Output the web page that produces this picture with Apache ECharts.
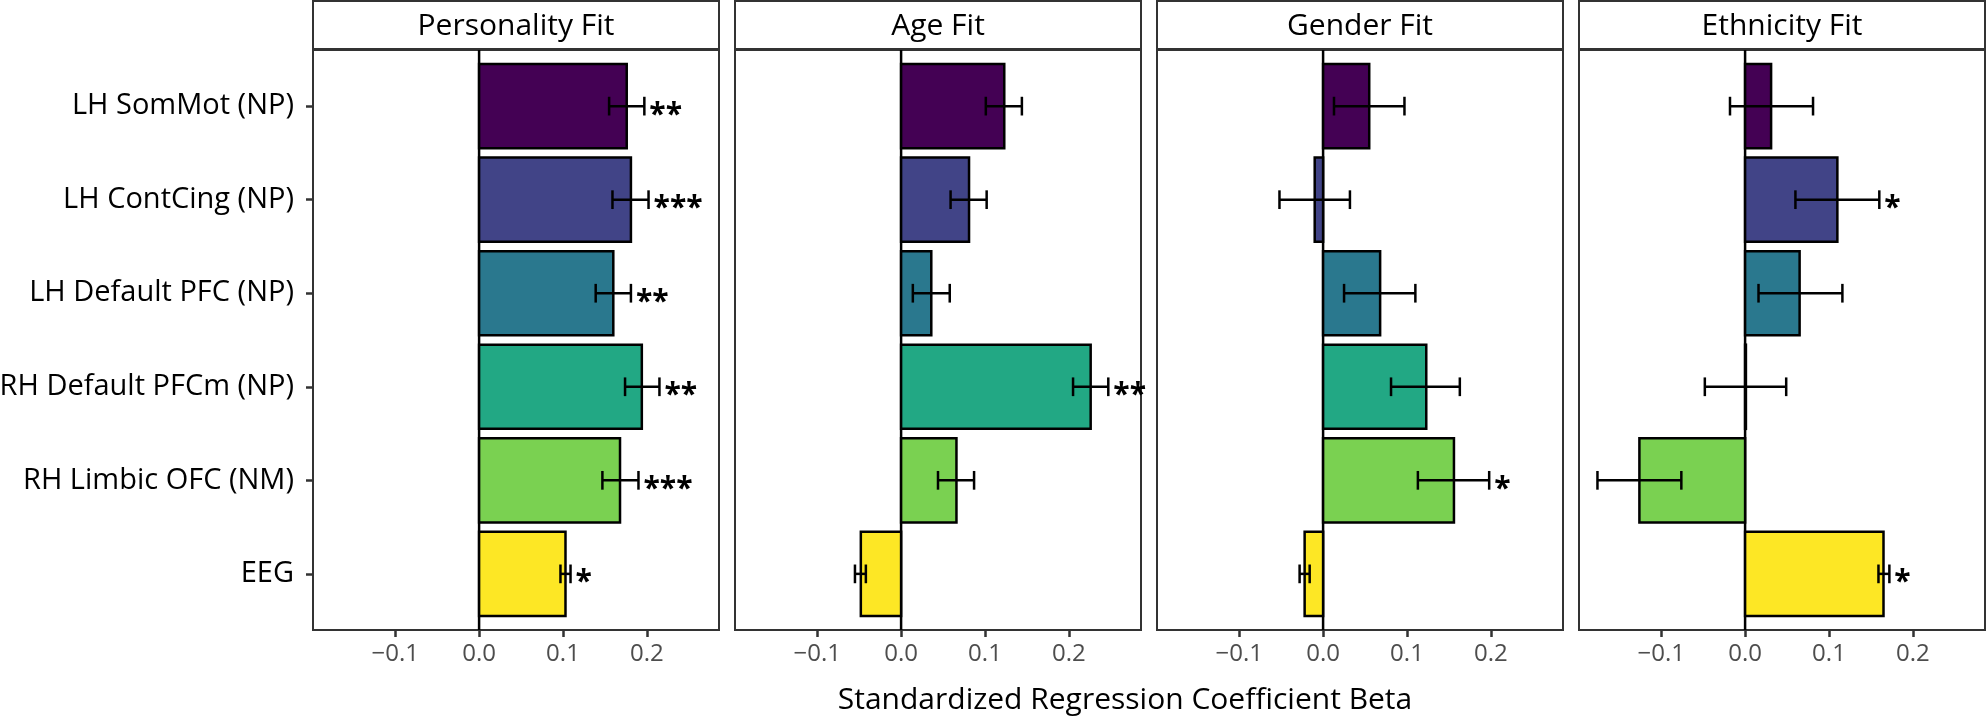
<!DOCTYPE html>
<html>
<head>
<meta charset="utf-8">
<script src="https://cdn.jsdelivr.net/npm/echarts@6/dist/echarts.min.js"></script>
<style>
html,body{margin:0;padding:0;background:#fff;}
#chart{width:1986px;height:720px;}
</style>
</head>
<body>
<div id="chart"></div>
<script>
// ---------------- data ----------------
const categories = ['LH SomMot (NP)', 'LH ContCing (NP)', 'LH Default PFC (NP)', 'RH Default PFCm (NP)', 'RH Limbic OFC (NM)', 'EEG'];
const panelTitles = ['Personality Fit', 'Age Fit', 'Gender Fit', 'Ethnicity Fit'];
const xTicks = [-0.1, 0.0, 0.1, 0.2];
const axisTitle = 'Standardized Regression Coefficient Beta';

const personalityBeta = [0.176, 0.181, 0.160, 0.194, 0.168, 0.103];
const personalityLo   = [0.155, 0.159, 0.139, 0.174, 0.147, 0.097];
const personalityHi   = [0.197, 0.202, 0.181, 0.215, 0.190, 0.109];
const personalityStars = ['**', '***', '**', '**', '***', '*'];

const ageBeta = [0.123, 0.081, 0.036, 0.226, 0.066, -0.048];
const ageLo   = [0.101, 0.059, 0.014, 0.205, 0.044, -0.055];
const ageHi   = [0.144, 0.102, 0.058, 0.247, 0.087, -0.042];
const ageStars = ['', '', '', '**', '', ''];

const genderBeta = [0.055, -0.010, 0.068, 0.123, 0.156, -0.022];
const genderLo   = [0.013, -0.052, 0.025, 0.081, 0.113, -0.028];
const genderHi   = [0.097, 0.032, 0.110, 0.163, 0.198, -0.016];
const genderStars = ['', '', '', '', '*', ''];

const ethnicityBeta = [0.031, 0.110, 0.065, 0.001, -0.126, 0.165];
const ethnicityLo   = [-0.018, 0.060, 0.016, -0.048, -0.176, 0.159];
const ethnicityHi   = [0.081, 0.160, 0.116, 0.049, -0.076, 0.172];
const ethnicityStars = ['', '*', '', '', '', '*'];

const barColors = ['#440154', '#414487', '#2A788E', '#22A884', '#7AD151', '#FDE725'];

// ---------------- layout ----------------
const FONT = "'Open Sans', 'Noto Sans', sans-serif";
const panelLeft0 = 313, panelW = 406, panelStep = 422;
const panelTop = 50, panelH = 580;
const stripTop = 1, stripH = 48;
const xMin = -0.198, xMax = 0.286;

const panels = [
  {beta: personalityBeta, lo: personalityLo, hi: personalityHi, stars: personalityStars},
  {beta: ageBeta, lo: ageLo, hi: ageHi, stars: ageStars},
  {beta: genderBeta, lo: genderLo, hi: genderHi, stars: genderStars},
  {beta: ethnicityBeta, lo: ethnicityLo, hi: ethnicityHi, stars: ethnicityStars}
];

const grids = [], xAxes = [], yAxes = [], series = [], graphics = [];
const catIdx = categories.map((c, i) => i);

panels.forEach((p, k) => {
  const left = panelLeft0 + k * panelStep;
  grids.push({left: left, top: panelTop, width: panelW, height: panelH, show: true,
    borderColor: '#333333', borderWidth: 2, backgroundColor: '#fff',
    containLabel: false, outerBoundsMode: 'none'});
  xAxes.push({type: 'value', gridIndex: k, min: xMin, max: xMax, position: 'bottom',
    axisLine: {show: false, onZero: false}, splitLine: {show: false},
    axisTick: {show: true, length: 7, customValues: xTicks, lineStyle: {color: '#333333', width: 2.5}},
    axisLabel: {show: true, customValues: xTicks, margin: 12, color: '#4D4D4D', fontFamily: FONT, fontSize: 24,
      formatter: v => (v < -1e-9 ? '\u2212' : '') + Math.abs(v).toFixed(1)}});
  yAxes.push({type: 'value', gridIndex: k, min: -0.6, max: 5.6, inverse: true, position: 'left',
    axisLine: {show: false, onZero: false}, splitLine: {show: false},
    axisTick: {show: k === 0, length: 7, customValues: catIdx, lineStyle: {color: '#333333', width: 2.5}},
    axisLabel: {show: k === 0, customValues: catIdx, margin: 19, color: '#000', fontFamily: FONT, fontSize: 29,
      formatter: v => categories[Math.round(v)]}});

  // zero reference line
  series.push({type: 'custom', xAxisIndex: k, yAxisIndex: k, silent: true, z: 3,
    data: [[0]],
    renderItem: (params, api) => {
      const a = api.coord([api.value(0), -0.6]);
      const b = api.coord([api.value(0), 5.6]);
      return {type: 'line', shape: {x1: a[0], y1: a[1], x2: b[0], y2: b[1]},
        style: {stroke: '#000', lineWidth: 2.5}};
    }});

  // bars
  series.push({type: 'custom', xAxisIndex: k, yAxisIndex: k, z: 4,
    data: p.beta.map((v, i) => [v, i]),
    renderItem: (params, api) => {
      const v = api.value(0), i = api.value(1);
      const a = api.coord([0, i - 0.45]);
      const b = api.coord([v, i + 0.45]);
      return {type: 'rect',
        shape: {x: Math.min(a[0], b[0]), y: Math.min(a[1], b[1]), width: Math.abs(b[0] - a[0]), height: Math.abs(b[1] - a[1])},
        style: {fill: barColors[i], stroke: '#000', lineWidth: 2.5}};
    }});

  // error bars
  series.push({type: 'custom', xAxisIndex: k, yAxisIndex: k, z: 5,
    data: p.lo.map((v, i) => [v, p.hi[i], i]),
    renderItem: (params, api) => {
      const lo = api.value(0), hi = api.value(1), i = api.value(2);
      const a = api.coord([lo, i]);
      const b = api.coord([hi, i]);
      const t = api.coord([lo, i - 0.1]);
      const u = api.coord([lo, i + 0.1]);
      const st = {stroke: '#000', lineWidth: 2.5};
      return {type: 'group', children: [
        {type: 'line', shape: {x1: a[0], y1: a[1], x2: b[0], y2: b[1]}, style: st},
        {type: 'line', shape: {x1: a[0], y1: t[1], x2: a[0], y2: u[1]}, style: st},
        {type: 'line', shape: {x1: b[0], y1: t[1], x2: b[0], y2: u[1]}, style: st}
      ]};
    }});

  // significance stars
  series.push({type: 'custom', xAxisIndex: k, yAxisIndex: k, z: 6, silent: true,
    data: p.hi.map((v, i) => [v, i]),
    renderItem: (params, api) => {
      const s = p.stars[params.dataIndex];
      if (!s) return null;
      const c = api.coord([api.value(0), api.value(1)]);
      return {type: 'text', x: c[0] + 5, y: c[1] + 9,
        style: {text: s, fill: '#000', font: 'bold 30px ' + FONT, textAlign: 'left', textVerticalAlign: 'middle'}};
    }});

  // facet strip
  graphics.push({type: 'rect', z: 10, shape: {x: left, y: stripTop, width: panelW, height: stripH},
    style: {fill: '#fff', stroke: '#333333', lineWidth: 2}});
  graphics.push({type: 'text', z: 11, x: left + panelW / 2, y: stripTop + stripH / 2 + 1,
    style: {text: panelTitles[k], fill: '#000', font: '30px ' + FONT, textAlign: 'center', textVerticalAlign: 'middle'}});
});

graphics.push({type: 'text', z: 11, x: 1125, y: 700,
  style: {text: axisTitle, fill: '#000', font: '30px ' + FONT, textAlign: 'center', textVerticalAlign: 'middle'}});

const chart = echarts.init(document.getElementById('chart'), null, {renderer: 'canvas'});
chart.setOption({
  animation: false,
  backgroundColor: '#fff',
  grid: grids,
  xAxis: xAxes,
  yAxis: yAxes,
  series: series,
  graphic: graphics
});
</script>
</body>
</html>
